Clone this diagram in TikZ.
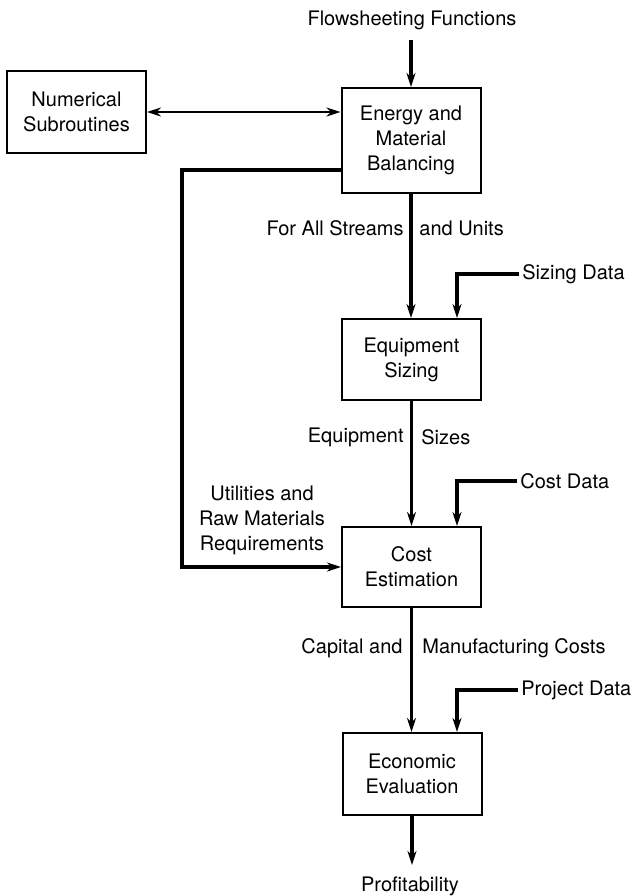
\documentclass[tikz,border=0pt]{standalone}
\usepackage{fontspec}
\setmainfont{TeX Gyre Heros}
\usetikzlibrary{arrows.meta,calc}
\begin{document}
\begin{tikzpicture}[x=0.5pt,y=-0.5pt,
  txt/.style={font=\fontsize{10}{12.5}\selectfont},
  box/.style={txt,draw,line width=1pt,inner sep=0pt,align=center,minimum width=69.5pt},
  lbl/.style={txt,inner sep=0pt,align=center},
  tip/.style={-{Stealth[length=7pt,width=4.5pt]}},
  flow/.style={tip,line width=1.8pt},
  thinflow/.style={line width=1.1pt,{Stealth[length=7pt,width=4.5pt]}-{Stealth[length=7pt,width=4.5pt]}}]
\useasboundingbox (0,0) rectangle (641,896);

% boxes
\node[box,minimum height=41pt] (num) at (76.5,112) {Numerical\\Subroutines};
\node[box,minimum height=52.5pt] (emb) at (411,140.5) {Energy and\\Material\\Balancing};
\node[box,minimum height=40.5pt] (eq) at (411.5,359.5) {Equipment\\Sizing};
\node[box,minimum height=40pt] (cost) at (411.5,567) {Cost\\Estimation};
\node[box,minimum height=41pt] (econ) at (412,774) {Economic\\Evaluation};

% external texts
\node[lbl] (fst) at (412,20) {Flowsheeting Functions};
\coordinate (fs) at (411,40);
\node[lbl,anchor=west,inner sep=1.5pt] (sdt) at (519,274) {Sizing Data};
\node[lbl,anchor=west,inner sep=1.5pt] (cdt) at (517,481) {Cost Data};
\node[lbl,anchor=west,inner sep=1.5pt] (pdt) at (518,690) {Project Data};
\node[lbl] (prof) at (410,886) {Profitability};
\coordinate (pf) at (412,865);
\coordinate (lp) at (182,567);

% stream labels
\node[lbl,anchor=east] at (404,228) {For All Streams};
\node[lbl,anchor=west] at (419,228) {and Units};
\node[lbl,anchor=east] at (404,437) {Equipment};
\node[lbl,anchor=west] at (421,437) {Sizes};
\node[lbl] at (262,520) {Utilities and\\Raw Materials\\Requirements};
\node[lbl,anchor=east] at (403,648) {Capital and};
\node[lbl,anchor=west] at (422,648) {Manufacturing Costs};

% connectors
\draw[flow] (fs) -- (fs |- emb.north);
\draw[thinflow] (num.east) -- (num.east -| emb.west);
\draw[flow] ([shift={(0,29.5)}]emb.west) -| (lp) -- (cost.west);
\draw[flow] (emb.south) -- (emb.south |- eq.north);
\draw[flow] (sdt.west) -| ($(eq.north)+(45.5,0)$);
\draw[flow] (eq.south) -- (cost.north);
\draw[flow] (cdt.west) -| ($(cost.north)+(45.5,0)$);
\draw[flow] (cost.south) -- (cost.south |- econ.north);
\draw[flow] (pdt.west) -| ($(econ.north)+(45,0)$);
\draw[flow] (econ.south) -- (econ.south |- pf);
\end{tikzpicture}
\end{document}
